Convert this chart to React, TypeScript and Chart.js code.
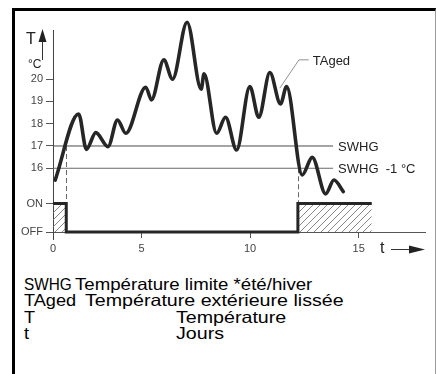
import React, { useEffect, useRef } from 'react';
import { Chart, registerables } from 'chart.js';

Chart.register(...registerables);

// ---------------- data ----------------
const days = [1.03, 2.11, 2.47, 2.9, 3.46, 3.9, 4.28, 5.2, 5.46, 6.03, 6.43, 7.1, 7.75, 7.88, 8.46, 8.87, 9.38, 9.99, 10.4, 10.91, 11.4, 11.68, 12.4, 12.86, 13.48, 13.86, 14.29];
const tAged = [15.47, 18.44, 16.85, 17.6, 16.97, 18.17, 17.57, 19.64, 19.07, 20.87, 20.0, 22.56, 19.55, 20.24, 17.57, 18.29, 16.82, 19.67, 18.29, 20.3, 18.89, 19.67, 15.7, 16.49, 14.85, 15.47, 14.95];

const swhgLimit = 17;
const swhgLower = 16;
const thresholdLineEnd = 13.82;

const switchDays = [0.93, 1.54, 1.54, 12.2, 12.2, 15.6];
const switchState = [1, 1, 0, 0, 1, 1];

const crossingDays = [1.54, 12.2];
const crossingTemps = [17, 16];

const xTickValues = [0.93, 5, 10, 15];
const xTickLabels = ['0', '5', '10', '15'];
const tempTickValues = [16, 17, 18, 19, 20];
const stateTickValues = [0, 1];
const stateTickLabels = ['OFF', 'ON'];

const tagedLeader = [
  { x: 11.37, y: 19.6 },
  { x: 12.25, y: 20.87 },
  { x: 12.7, y: 20.87 },
];

const legendKeys = ['SWHG', 'TAged', 'T', 't'];
const legendTexts = ['Température limite *été/hiver', 'Température extérieure lissée', 'Température', 'Jours'];

// ---------------- layout ----------------
const X_MIN = 0.93;
const X_MAX = 18.05;
const T_MIN = 15.05;
const T_MAX = 22.21;
const S_MIN = 0;
const S_MAX = 1.5;
const FONT = "'Liberation Sans', Arial, Helvetica, sans-serif";
const legendTextLeft = [75, 85, 176, 176];
const legendTop = [273.8, 290.3, 306.8, 323.3];
const legendKeyScale = [0.93, 1.1, 1.1, 1.1];
const legendTextScale = [1.13, 1.19, 1.19, 1.19];

function makeHatch(): CanvasPattern | string {
  const c = document.createElement('canvas');
  c.width = 7;
  c.height = 7;
  const g = c.getContext('2d');
  if (!g) return 'rgba(0,0,0,0.1)';
  g.strokeStyle = '#7a7a7a';
  g.lineWidth = 0.9;
  g.beginPath();
  g.moveTo(0, 7); g.lineTo(7, 0);
  g.moveTo(-1, 1); g.lineTo(1, -1);
  g.moveTo(6, 8); g.lineTo(8, 6);
  g.stroke();
  return g.createPattern(c, 'repeat') || 'rgba(0,0,0,0.1)';
}

const extrasPlugin = {
  id: 'extras',
  beforeDatasetsDraw(chart: any) {
    const { ctx, scales } = chart;
    const x = scales.x, y = scales.y, y2 = scales.y2;
    ctx.save();
    ctx.strokeStyle = '#666';
    ctx.lineWidth = 1;
    ctx.setLineDash([5, 3]);
    crossingDays.forEach((d, i) => {
      const px = Math.round(x.getPixelForValue(d)) + 0.5;
      ctx.beginPath();
      ctx.moveTo(px, y.getPixelForValue(crossingTemps[i]));
      ctx.lineTo(px, y2.getPixelForValue(1));
      ctx.stroke();
    });
    ctx.restore();
  },
  afterDraw(chart: any) {
    const { ctx, scales, chartArea } = chart;
    const x = scales.x, y = scales.y;
    const L = chartArea.left;
    ctx.save();
    // y-axis extension below baseline
    ctx.strokeStyle = '#444';
    ctx.lineWidth = 1;
    ctx.beginPath();
    ctx.moveTo(L + 0.5, chartArea.bottom);
    ctx.lineTo(L + 0.5, chartArea.bottom + 8);
    ctx.stroke();

    // threshold labels
    ctx.fillStyle = '#222';
    ctx.font = `13px ${FONT}`;
    ctx.textBaseline = 'middle';
    ctx.textAlign = 'left';
    const lx = x.getPixelForValue(thresholdLineEnd) + 5;
    ctx.fillText('SWHG', lx, y.getPixelForValue(swhgLimit) + 1);
    ctx.fillText('SWHG  -1 °C', lx, y.getPixelForValue(swhgLower) + 1);

    // TAged leader
    ctx.strokeStyle = '#777';
    ctx.lineWidth = 0.8;
    ctx.beginPath();
    tagedLeader.forEach((p, i) => {
      const px = x.getPixelForValue(p.x), py = y.getPixelForValue(p.y);
      if (i === 0) ctx.moveTo(px, py); else ctx.lineTo(px, py);
    });
    ctx.stroke();
    const last = tagedLeader[tagedLeader.length - 1];
    ctx.fillText('TAged', x.getPixelForValue(last.x) + 4, y.getPixelForValue(last.y) + 2);

    // T axis title and arrow
    ctx.fillStyle = '#222';
    ctx.font = `16px ${FONT}`;
    ctx.textBaseline = 'alphabetic';
    ctx.fillText('T', L - 27, 44);
    ctx.font = `12px ${FONT}`;
    ctx.fillText('°C', L - 25, 68);
    ctx.strokeStyle = '#333';
    ctx.lineWidth = 1;
    ctx.beginPath();
    ctx.moveTo(L - 10.5, 60);
    ctx.lineTo(L - 10.5, 40);
    ctx.stroke();
    ctx.beginPath();
    ctx.moveTo(L - 10.5, 29);
    ctx.lineTo(L - 14.5, 42);
    ctx.lineTo(L - 6.5, 42);
    ctx.closePath();
    ctx.fill();

    // t axis title and arrow
    const B = chartArea.bottom;
    ctx.font = `16px ${FONT}`;
    ctx.fillText('t', 380, B + 21);
    ctx.beginPath();
    ctx.moveTo(391, B + 17.5);
    ctx.lineTo(410, B + 17.5);
    ctx.stroke();
    ctx.beginPath();
    ctx.moveTo(425, B + 17.5);
    ctx.lineTo(409, B + 13.5);
    ctx.lineTo(409, B + 21.5);
    ctx.closePath();
    ctx.fill();
    ctx.restore();
  },
};

export default function App() {
  const ref = useRef<HTMLCanvasElement | null>(null);

  useEffect(() => {
    if (!ref.current) return;
    const hatch = makeHatch();
    const tickFont = { family: FONT, size: 11 };
    const chart = new Chart(ref.current, {
      type: 'line',
      data: {
        datasets: [
          {
            label: 'TAged',
            data: days.map((d, i) => ({ x: d, y: tAged[i] })),
            yAxisID: 'y',
            borderColor: '#262626',
            borderWidth: 3.6,
            cubicInterpolationMode: 'monotone',
            pointRadius: 0,
            clip: false,
            borderCapStyle: 'round',
            borderJoinStyle: 'round',
            fill: false,
          },
          {
            label: 'Commutation',
            data: switchDays.map((d, i) => ({ x: d, y: switchState[i] })),
            yAxisID: 'y2',
            borderColor: '#262626',
            borderWidth: 3,
            pointRadius: 0,
            tension: 0,
            fill: 'origin',
            backgroundColor: hatch,
            clip: false,
            borderJoinStyle: 'miter',
          },
          {
            label: 'SWHG',
            data: [{ x: X_MIN, y: swhgLimit }, { x: thresholdLineEnd, y: swhgLimit }],
            yAxisID: 'y',
            borderColor: '#4a4a4a',
            borderWidth: 1,
            pointRadius: 0,
            fill: false,
          },
          {
            label: 'SWHG -1',
            data: [{ x: X_MIN, y: swhgLower }, { x: thresholdLineEnd, y: swhgLower }],
            yAxisID: 'y',
            borderColor: '#6a6a6a',
            borderWidth: 1,
            pointRadius: 0,
            fill: false,
          },
        ],
      } as any,
      options: {
        responsive: false,
        animation: false,
        events: [],
        layout: { padding: { left: 0, top: 30, right: 11, bottom: 0 } },
        plugins: { legend: { display: false }, tooltip: { enabled: false }, title: { display: false } },
        scales: {
          x: {
            type: 'linear',
            position: 'bottom',
            min: X_MIN,
            max: X_MAX,
            afterBuildTicks: (s: any) => { s.ticks = xTickValues.map((v) => ({ value: v })); },
            afterFit: (s: any) => { s.height = 30; },
            grid: { drawOnChartArea: false, drawTicks: true, tickLength: 6, color: '#555', lineWidth: 1 },
            border: { display: true, color: '#555', width: 1 },
            ticks: {
              autoSkip: false, maxRotation: 0, padding: 4, color: '#444', font: tickFont,
              callback: (_v: any, i: number) => xTickLabels[i] ?? '',
            },
          },
          y: {
            type: 'linear',
            position: 'left',
            stack: 'v',
            stackWeight: 159.4,
            weight: 1,
            min: T_MIN,
            max: T_MAX,
            afterBuildTicks: (s: any) => { s.ticks = tempTickValues.map((v) => ({ value: v })); },
            afterFit: (s: any) => { s.width = 53; },
            grid: { drawOnChartArea: false, drawTicks: true, tickLength: 7, color: '#555' },
            border: { display: true, color: '#444', width: 1 },
            ticks: { padding: 3, color: '#444', font: tickFont, callback: (v: any) => String(v) },
          },
          y2: {
            type: 'linear',
            position: 'left',
            stack: 'v',
            stackWeight: 42.6,
            weight: 0,
            min: S_MIN,
            max: S_MAX,
            afterBuildTicks: (s: any) => { s.ticks = stateTickValues.map((v) => ({ value: v })); },
            afterFit: (s: any) => { s.width = 53; },
            grid: { drawOnChartArea: false, drawTicks: true, tickLength: 7, color: '#555' },
            border: { display: true, color: '#444', width: 1 },
            ticks: { padding: 3, color: '#444', font: tickFont, callback: (_v: any, i: number) => stateTickLabels[i] ?? '' },
          },
        },
      } as any,
      plugins: [extrasPlugin],
    });
    return () => chart.destroy();
  }, []);

  return (
    <div style={{ position: 'absolute', left: 0, top: 0, width: 436, height: 374, overflow: 'hidden', background: '#fff' }}>
      <div
        style={{
          position: 'absolute', left: 12, top: 8, width: 424, height: 366, boxSizing: 'border-box',
          borderTop: '3px solid #000', borderLeft: '3px solid #000', borderRight: '1px solid #999',
        }}
      />
      <canvas ref={ref} width={436} height={262} style={{ position: 'absolute', left: 0, top: 0, width: 436, height: 262 }} />
      {legendKeys.map((k, i) => (
        <React.Fragment key={k}>
          <span
            style={{
              position: 'absolute', left: 24, top: legendTop[i], fontFamily: FONT, fontSize: 16.5, lineHeight: '20px',
              whiteSpace: 'nowrap', color: '#000', transform: `scaleX(${legendKeyScale[i]})`, transformOrigin: 'left',
            }}
          >
            {k}
          </span>
          <span
            style={{
              position: 'absolute', left: legendTextLeft[i], top: legendTop[i], fontFamily: FONT, fontSize: 16.5, lineHeight: '20px',
              whiteSpace: 'nowrap', color: '#000', transform: `scaleX(${legendTextScale[i]})`, transformOrigin: 'left',
            }}
          >
            {legendTexts[i]}
          </span>
        </React.Fragment>
      ))}
    </div>
  );
}
